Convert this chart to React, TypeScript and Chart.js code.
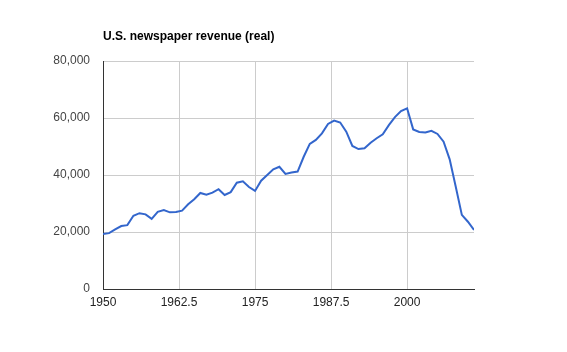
import React, { useEffect, useRef } from "react";
import { Chart, registerables } from "chart.js";

Chart.register(...registerables);

const title = "U.S. newspaper revenue (real)";
const startYear = 1950;
const revenue = [
  19300, 19600, 20900, 22100, 22400, 25700, 26600, 26200, 24600, 27100,
  27700, 26900, 27000, 27500, 29700, 31500, 33700, 33100, 33800, 35000,
  33000, 34000, 37300, 37800, 35800, 34400, 38000, 40000, 42000, 42900,
  40400, 40900, 41200, 46400, 50900, 52300, 54600, 57900, 59100, 58400,
  55200, 50200, 49100, 49400, 51300, 52900, 54300, 57500, 60300, 62400,
  63400, 56000, 55100, 54900, 55500, 54400, 51700, 45500, 35900, 26000,
  23600, 20700,
];
const years = revenue.map((_, i) => startYear + i);
const xMin = 1950;
const xMax = 2011;
const xStep = 12.5;
const yMin = 0;
const yMax = 80000;
const yStep = 20000;

export default function App() {
  const ref = useRef<HTMLCanvasElement | null>(null);
  useEffect(() => {
    if (!ref.current) return;
    const font = "'Liberation Sans', Arial, sans-serif";
    const chart = new Chart(ref.current, {
      type: "line",
      data: {
        datasets: [
          {
            data: years.map((y, i) => ({ x: y, y: revenue[i] })),
            borderColor: "#3366cc",
            borderWidth: 2,
            pointRadius: 0,
            tension: 0,
            fill: false,
          },
        ],
      },
      options: {
        responsive: false,
        animation: false,
        layout: { padding: { left: 0, right: 93, top: 0, bottom: 0 } },
        plugins: {
          legend: { display: false },
          tooltip: { enabled: false },
          title: {
            display: true,
            text: title,
            align: "start",
            fullSize: false,
            color: "#000",
            font: { family: font, size: 12, weight: "bold" },
            padding: { top: 29, bottom: 17.6 },
          },
        },
        scales: {
          x: {
            type: "linear",
            min: xMin,
            max: xMax,
            afterFit: (s: any) => {
              s.height = 63;
            },
            ticks: {
              stepSize: xStep,
              includeBounds: false,
              padding: 6,
              color: "#222",
              font: { family: font, size: 12 },
              maxRotation: 0,
              autoSkip: false,
              callback: (v: any) => String(v),
            },
            grid: { color: "#cccccc", drawTicks: false, tickLength: 0 },
            border: { color: "#333333", width: 1 },
          },
          y: {
            type: "linear",
            min: yMin,
            max: yMax,
            afterFit: (s: any) => {
              s.width = 103;
            },
            ticks: {
              stepSize: yStep,
              padding: 13,
              color: "#444",
              font: { family: font, size: 12 },
              callback: (v: any) => Number(v).toLocaleString("en-US"),
            },
            grid: { color: "#cccccc", drawTicks: false, tickLength: 0 },
            border: { color: "#333333", width: 1 },
          },
        },
      },
    } as any);
    return () => chart.destroy();
  }, []);
  return (
    <canvas
      ref={ref}
      width={567}
      height={352}
      style={{ position: "absolute", left: 0, top: 0, width: 567, height: 352 }}
    />
  );
}
